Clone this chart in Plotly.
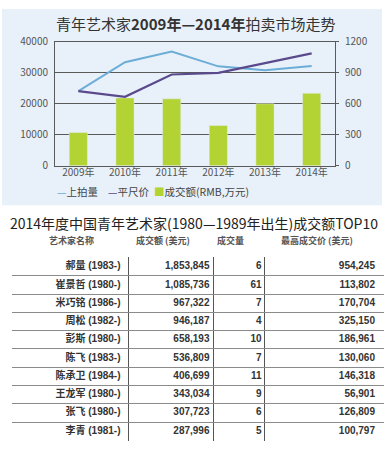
import plotly.graph_objects as go

# ---- chart data ----
years = ["2009年", "2010年", "2011年", "2012年", "2013年", "2014年"]
turnover = [10700, 21900, 21600, 13000, 20000, 23400]   # 成交额 (left axis)
lots = [722, 1003, 1106, 963, 925, 966]                 # 上拍量 (right axis)
price = [722, 668, 884, 900, 994, 1088]                 # 平尺价 (right axis)
series_names = ["上拍量", "平尺价", "成交额(RMB,万元)"]
left_ticks = [0, 10000, 20000, 30000, 40000]
right_ticks = [0, 300, 600, 900, 1200]

# ---- table data ----
table_header = ["艺术家名称", "成交额 (美元)", "成交量", "最高成交价 (美元)"]
artists = ["郝量 (1983-)", "崔景哲 (1980-)", "米巧铭 (1986-)", "周松 (1982-)", "彭斯 (1980-)",
           "陈飞 (1983-)", "陈承卫 (1984-)", "王龙军 (1980-)", "张飞 (1980-)", "李青 (1981-)"]
sales_usd = ["1,853,845", "1,085,736", "967,322", "946,187", "658,193",
             "536,809", "406,699", "343,034", "307,723", "287,996"]
volume = ["6", "61", "7", "4", "10", "7", "11", "9", "6", "5"]
top_price = ["954,245", "113,802", "170,704", "325,150", "186,961",
             "130,060", "146,318", "56,901", "126,809", "100,797"]

W, H = 391, 458
BLUE_LINE = "#6cadd8"
PURPLE = "#5a4a8c"
GREEN = "#b3d334"
PANEL = "#e8f1f9"
GRID = "#5a5a5a"
FONT = "Noto Sans CJK SC, Liberation Sans, sans-serif"

def px(x):
    return x / W

def py(y):
    return 1 - y / H

fig = go.Figure()

# ---- chart traces ----
fig.add_trace(go.Bar(x=years, y=turnover, name=series_names[2], marker_color=GREEN,
                     width=0.39, xaxis="x", yaxis="y", showlegend=False))
fig.add_trace(go.Scatter(x=years, y=lots, name=series_names[0], mode="lines",
                         line=dict(color=BLUE_LINE, width=2), xaxis="x", yaxis="y2", showlegend=False))
fig.add_trace(go.Scatter(x=years, y=price, name=series_names[1], mode="lines",
                         line=dict(color=PURPLE, width=2.2), xaxis="x", yaxis="y2", showlegend=False))

# ---- table drawn on its own axes: columns in px-like units, rows in row units ----
TX0 = 11.5        # left pixel of the table axes
TW = 371          # table width in px
TTOP = 256.5      # top border pixel
ROWH = 19
col_edges = [0, 116.5, 201.5, 252.5, 371]
n_rows = len(artists)
row_idx = [i + 0.5 for i in range(n_rows)]
columns = [artists, sales_usd, volume, top_price]
pads = [8, 4, 3, 8]
for c, vals in enumerate(columns):
    fig.add_trace(go.Scatter(
        x=[col_edges[c + 1] - pads[c]] * n_rows, y=row_idx, mode="text",
        text=[f"<b>{v}</b>" for v in vals], textposition="middle left",
        textfont=dict(family="Liberation Sans, Noto Sans CJK SC, sans-serif", size=10, color="#333"),
        xaxis="x3", yaxis="y3", showlegend=False, hoverinfo="skip", cliponaxis=False))

shapes = [dict(type="rect", xref="paper", yref="paper", x0=px(2), x1=px(382), y0=py(203), y1=1,
               fillcolor=PANEL, line=dict(width=0), layer="below")]

annotations = [
    dict(text="青年艺术家<b>2009年—2014年</b>拍卖市场走势", x=px(195), y=py(15), xref="paper", yref="paper",
         showarrow=False, font=dict(family=FONT, size=15, color="#333"), xanchor="center", yanchor="middle"),
    dict(text="2014年度中国青年艺术家(1980—1989年出生)成交额TOP10", x=px(194), y=py(221), xref="paper",
         yref="paper", showarrow=False, font=dict(family=FONT, size=14, color="#222"),
         xanchor="center", yanchor="middle"),
]
# table header labels, above the first row (paper coords; outside the table axes range)
hdr_shift = [1, -8, -8, -7]
for i, h in enumerate(table_header):
    cx = TX0 + 0.5 + (col_edges[i] + col_edges[i + 1]) / 2 + hdr_shift[i]
    annotations.append(dict(text=f"<b>{h}</b>", x=px(cx), y=py(239),
                            xref="paper", yref="paper", showarrow=False, xanchor="center",
                            yanchor="middle", font=dict(family=FONT, size=9, color="#555")))
legend_items = [(series_names[0], "—", BLUE_LINE, 55), (series_names[1], "—", PURPLE, 106),
                (series_names[2], "■", GREEN, 152)]
for name, sym, col, x0 in legend_items:
    annotations.append(dict(text=f"<span style='color:{col}'>{sym}</span>{name}", x=px(x0), y=py(189),
                            xref="paper", yref="paper", showarrow=False, xanchor="left", yanchor="middle",
                            font=dict(family=FONT, size=10.5, color="#444")))

fig.update_layout(
    width=W, height=H, margin=dict(l=0, r=0, t=0, b=0),
    paper_bgcolor="white", plot_bgcolor="rgba(0,0,0,0)",
    font=dict(family=FONT),
    bargap=0.6, showlegend=False,
    xaxis=dict(domain=[px(55), px(335)], showgrid=False, showline=True, mirror=True,
               linecolor=GRID, linewidth=1, ticks="", tickfont=dict(size=10, color="#555"),
               anchor="y", fixedrange=True, ticklabelstandoff=-3),
    yaxis=dict(domain=[py(162), py(34)], range=[0, 40000], tickvals=left_ticks, tickformat="d",
               showgrid=True, gridcolor=GRID, gridwidth=1, showline=True, mirror=True,
               linecolor=GRID, linewidth=1, zeroline=False, ticks="", anchor="x",
               tickfont=dict(size=10, color="#555"), ticklabelstandoff=4, fixedrange=True),
    yaxis2=dict(overlaying="y", side="right", range=[0, 1200], tickvals=right_ticks,
                showgrid=False, zeroline=False, ticks="outside", ticklen=3, tickcolor=GRID,
                tickfont=dict(size=10, color="#555"), ticklabelstandoff=4, anchor="x",
                fixedrange=True),
    xaxis3=dict(domain=[px(TX0), px(TX0 + TW + 1)], range=[-0.5, TW + 0.5], tickvals=col_edges,
                showticklabels=False, showgrid=True, gridcolor="#555", gridwidth=1,
                zeroline=False, ticks="", anchor="y3", fixedrange=True),
    yaxis3=dict(domain=[py(TTOP + n_rows * ROWH), py(TTOP)], range=[n_rows + 0.03, -0.03],
                tickvals=list(range(n_rows + 1)), showticklabels=False, showgrid=True,
                gridcolor="#8a8a8a", gridwidth=1, zeroline=False, ticks="", anchor="x3",
                fixedrange=True),
    shapes=shapes, annotations=annotations,
)

fig.write_html("out.html", config={"displayModeBar": False},
               post_script="document.body.style.margin='0px';")
